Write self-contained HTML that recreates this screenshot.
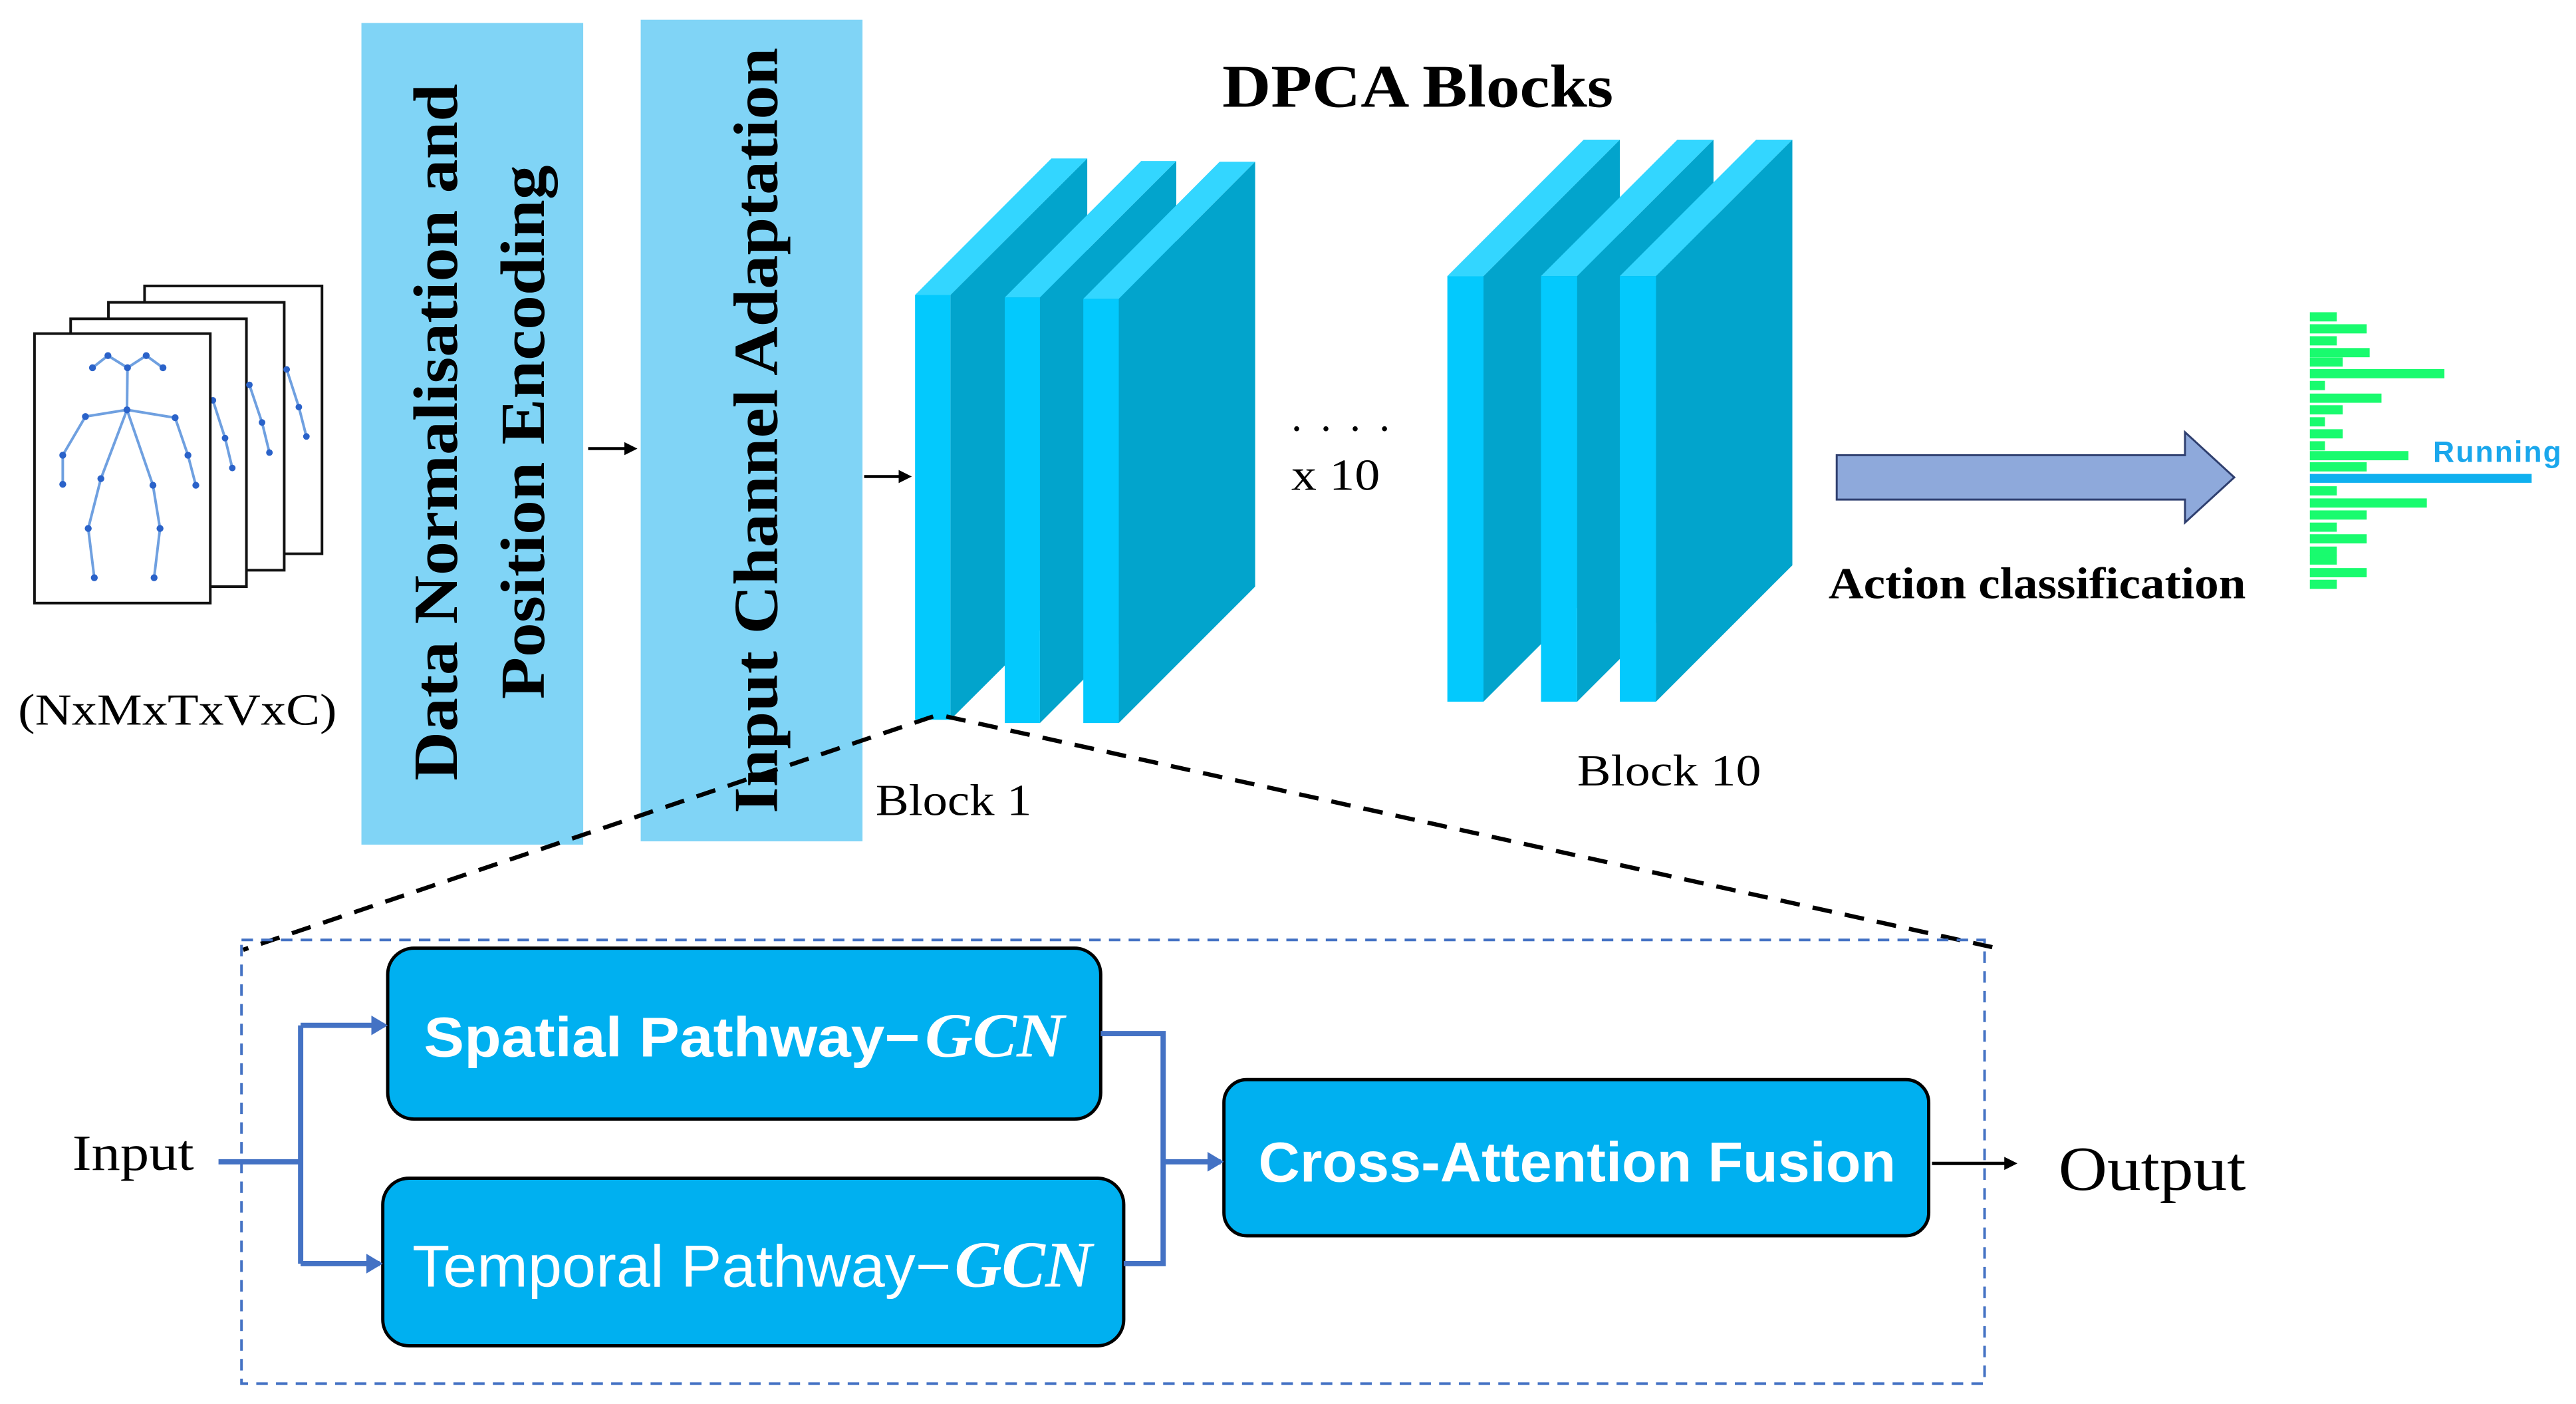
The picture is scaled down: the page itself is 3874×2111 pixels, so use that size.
<!DOCTYPE html>
<html><head><meta charset="utf-8"><style>html,body{margin:0;padding:0;background:#fff}svg{display:block}</style></head>
<body>
<svg width="3874" height="2111" viewBox="0 0 1568 854.4" xmlns="http://www.w3.org/2000/svg">
<defs>
<marker id="ab" markerWidth="8" markerHeight="8" refX="6" refY="4" orient="auto" markerUnits="userSpaceOnUse"><path d="M0,0 L8,4 L0,8 Z" fill="#000"/></marker>
<marker id="abl" markerWidth="10" markerHeight="12" refX="8" refY="6" orient="auto" markerUnits="userSpaceOnUse"><path d="M0,0 L10,6 L0,12 Z" fill="#4472c4"/></marker>
</defs>
<rect width="1568" height="854.4" fill="#fff"/>
<g fill="#fff" stroke="#111" stroke-width="1.6">
<rect x="88" y="174" width="108" height="163"/>
<rect x="66" y="184" width="107" height="163"/>
<rect x="43" y="194" width="107" height="163"/>
</g>
<g stroke="#6fa0e0" stroke-width="1.6" fill="none">
<polyline points="129.6,243.6 137,266.6 141.4,284.8"/>
<polyline points="151.8,234.2 159.5,257.1 164,275.4"/>
<polyline points="174.5,224.8 181.9,247.7 186.5,265.6"/>
</g>
<g fill="#2a62c9">
<circle cx="129.6" cy="243.6" r="2"/><circle cx="137" cy="266.6" r="2"/><circle cx="141.4" cy="284.8" r="2"/>
<circle cx="151.8" cy="234.2" r="2"/><circle cx="159.5" cy="257.1" r="2"/><circle cx="164" cy="275.4" r="2"/>
<circle cx="174.5" cy="224.8" r="2"/><circle cx="181.9" cy="247.7" r="2"/><circle cx="186.5" cy="265.6" r="2"/>
</g>
<rect x="21" y="203" width="107" height="164" fill="#fff" stroke="#111" stroke-width="1.6"/>
<g stroke="#6fa0e0" stroke-width="1.6" fill="none">
<polyline points="56.3,223.8 65.7,216.4 77.6,223.8 89,216.4 99.2,223.8"/>
<polyline points="77.6,223.8 77.3,249.4"/>
<polyline points="77.3,249.4 52,253.5 38.2,277 38.2,294.7"/>
<polyline points="77.3,249.4 106.6,254.2 114.4,277 119.2,295.3"/>
<polyline points="77.3,249.4 61.4,291.3 53.7,321.6 57.4,351.6"/>
<polyline points="77.3,249.4 93.1,295.3 97.4,321.6 93.8,351.6"/>
</g>
<g fill="#2a62c9">
<circle cx="65.7" cy="216.4" r="2.1"/><circle cx="89" cy="216.4" r="2.1"/><circle cx="56.3" cy="223.8" r="2.1"/><circle cx="77.6" cy="223.8" r="2.1"/><circle cx="99.2" cy="223.8" r="2.1"/>
<circle cx="77.3" cy="249.4" r="2.1"/><circle cx="52" cy="253.5" r="2.1"/><circle cx="106.6" cy="254.2" r="2.1"/>
<circle cx="38.2" cy="277" r="2.1"/><circle cx="114.4" cy="277" r="2.1"/><circle cx="38.2" cy="294.7" r="2.1"/><circle cx="119.2" cy="295.3" r="2.1"/>
<circle cx="61.4" cy="291.3" r="2.1"/><circle cx="93.1" cy="295.3" r="2.1"/><circle cx="53.7" cy="321.6" r="2.1"/><circle cx="97.4" cy="321.6" r="2.1"/>
<circle cx="57.4" cy="351.6" r="2.1"/><circle cx="93.8" cy="351.6" r="2.1"/>
</g>
<text x="108" y="441" font-family="Liberation Serif, serif" font-size="27" text-anchor="middle" textLength="194" lengthAdjust="spacingAndGlyphs">(NxMxTxVxC)</text>

<rect x="220" y="14" width="135" height="500" fill="#80d4f6"/>
<rect x="390" y="12" width="135" height="500" fill="#80d4f6"/>
<g font-family="Liberation Serif, serif" font-weight="bold" font-size="38" fill="#000" text-anchor="middle">
<text transform="translate(278,263) rotate(-90)" textLength="424" lengthAdjust="spacingAndGlyphs">Data Normalisation and</text>
<text transform="translate(331,263) rotate(-90)" textLength="325" lengthAdjust="spacingAndGlyphs">Position Encoding</text>
<text transform="translate(473,262) rotate(-90)" textLength="466" lengthAdjust="spacingAndGlyphs">Input Channel Adaptation</text>
</g>
<line x1="358" y1="273" x2="386" y2="273" stroke="#000" stroke-width="1.8" marker-end="url(#ab)"/>
<line x1="526" y1="290" x2="553" y2="290" stroke="#000" stroke-width="1.8" marker-end="url(#ab)"/>

<g>
<polygon points="578.5,179.5 661.8,96.4 661.8,355 578.5,438" fill="#02a4cc"/>
<polygon points="557,179.5 578.5,179.5 661.8,96.4 640,96.4" fill="#33d6ff"/>
<rect x="557" y="179.5" width="21.5" height="258.5" fill="#03c9fd"/>
</g>
<g>
<polygon points="633,181 716,98 716,357 633,440" fill="#02a4cc"/>
<polygon points="611.6,181 633,181 716,98 694.6,98" fill="#33d6ff"/>
<rect x="611.6" y="181" width="21.4" height="259" fill="#03c9fd"/>
</g>
<g>
<polygon points="681,181.8 764,98.4 764,357 681,440" fill="#02a4cc"/>
<polygon points="659.4,181.8 681,181.8 764,98.4 742.4,98.4" fill="#33d6ff"/>
<rect x="659.4" y="181.8" width="21.6" height="258.2" fill="#03c9fd"/>
</g>
<g>
<polygon points="903,168 986,85 986,344 903,427" fill="#02a4cc"/>
<polygon points="881,168 903,168 986,85 964,85" fill="#33d6ff"/>
<rect x="881" y="168" width="22" height="259" fill="#03c9fd"/>
</g>
<g>
<polygon points="960,168 1043,85 1043,344 960,427" fill="#02a4cc"/>
<polygon points="938,168 960,168 1043,85 1021,85" fill="#33d6ff"/>
<rect x="938" y="168" width="22" height="259" fill="#03c9fd"/>
</g>
<g>
<polygon points="1008,168 1091,85 1091,344 1008,427" fill="#02a4cc"/>
<polygon points="986,168 1008,168 1091,85 1069,85" fill="#33d6ff"/>
<rect x="986" y="168" width="22" height="259" fill="#03c9fd"/>
</g>

<g font-family="Liberation Serif, serif" fill="#000">
<text x="863" y="65" font-size="37" font-weight="bold" text-anchor="middle" textLength="238" lengthAdjust="spacingAndGlyphs">DPCA Blocks</text>
<text x="786" y="262" font-size="26" textLength="60">. . . .</text>
<text x="786" y="298" font-size="27" textLength="54" lengthAdjust="spacingAndGlyphs">x 10</text>
<text x="533" y="496" font-size="27" textLength="95" lengthAdjust="spacingAndGlyphs">Block 1</text>
<text x="960" y="478" font-size="27" textLength="112" lengthAdjust="spacingAndGlyphs">Block 10</text>
<text x="1113" y="364" font-size="27" font-weight="bold" textLength="254" lengthAdjust="spacingAndGlyphs">Action classification</text>
<text x="44" y="712" font-size="31" textLength="74" lengthAdjust="spacingAndGlyphs">Input</text>
<text x="1253" y="724" font-size="38" textLength="114" lengthAdjust="spacingAndGlyphs">Output</text>
</g>

<g stroke="#000" stroke-width="2.6" stroke-dasharray="12,8" fill="none">
<line x1="568" y1="436" x2="148" y2="578"/>
<line x1="576" y1="436" x2="1220" y2="578"/>
</g>

<polygon points="1118,277 1330,277 1330,263 1360,290.5 1330,318 1330,304 1118,304" fill="#8ea9db" stroke="#2f3f6f" stroke-width="1.2"/>

<g fill="#19fb6e">
<rect x="1406" y="190" width="16.4" height="5.6"/>
<rect x="1406" y="197.3" width="34.6" height="5.6"/>
<rect x="1406" y="204.6" width="16.4" height="5.6"/>
<rect x="1406" y="211.8" width="36.4" height="5.6"/>
<rect x="1406" y="217.5" width="20" height="5.6"/>
<rect x="1406" y="224.6" width="81.9" height="5.6"/>
<rect x="1406" y="231.8" width="9.2" height="5.6"/>
<rect x="1406" y="239.5" width="43.6" height="5.6"/>
<rect x="1406" y="246.6" width="20" height="5.6"/>
<rect x="1406" y="253.9" width="9.2" height="5.6"/>
<rect x="1406" y="261.2" width="20" height="5.6"/>
<rect x="1406" y="268.5" width="9.2" height="5.6"/>
<rect x="1406" y="274.5" width="60" height="5.6"/>
<rect x="1406" y="281.3" width="34.6" height="5.6"/>
<rect x="1406" y="295.9" width="16.4" height="5.6"/>
<rect x="1406" y="303.3" width="71.2" height="5.6"/>
<rect x="1406" y="310.6" width="34.6" height="5.6"/>
<rect x="1406" y="318" width="16.4" height="5.6"/>
<rect x="1406" y="325.1" width="34.6" height="5.6"/>
<rect x="1406" y="332.6" width="16.4" height="5.6"/>
<rect x="1406" y="338" width="16.4" height="5.6"/>
<rect x="1406" y="345.7" width="34.6" height="5.6"/>
<rect x="1406" y="352.8" width="16.4" height="5.6"/>
</g>
<rect x="1406" y="288.4" width="135" height="5.4" fill="#0fb0ef"/>
<text x="1481" y="281" font-family="Liberation Sans, sans-serif" font-weight="bold" font-size="18" fill="#1aa7ec" textLength="78">Running</text>

<rect x="147" y="572" width="1061" height="270" fill="none" stroke="#4472c4" stroke-width="1.6" stroke-dasharray="7,5"/>
<rect x="236" y="577" width="434" height="104" rx="16" fill="#00b0f0" stroke="#000" stroke-width="2"/>
<rect x="233" y="717" width="451" height="102" rx="16" fill="#00b0f0" stroke="#000" stroke-width="2"/>
<rect x="745" y="657" width="429" height="95" rx="14" fill="#00b0f0" stroke="#000" stroke-width="2"/>
<g fill="#fff" font-family="Liberation Sans, sans-serif">
<text x="258" y="643" font-size="34" font-weight="bold" textLength="302" lengthAdjust="spacingAndGlyphs">Spatial Pathway−</text>
<text x="563" y="643" font-size="38" font-weight="bold" font-style="italic" font-family="Liberation Serif, serif" textLength="85" lengthAdjust="spacingAndGlyphs">GCN</text>
<text x="251" y="783" font-size="36" textLength="328" lengthAdjust="spacingAndGlyphs">Temporal Pathway−</text>
<text x="581" y="783" font-size="40" font-weight="bold" font-style="italic" font-family="Liberation Serif, serif" textLength="84" lengthAdjust="spacingAndGlyphs">GCN</text>
<text x="766" y="719" font-size="34" font-weight="bold" textLength="388" lengthAdjust="spacingAndGlyphs">Cross-Attention Fusion</text>
</g>
<g stroke="#4472c4" stroke-width="3.2" fill="none">
<polyline points="133,707 183,707"/>
<polyline points="183,624 183,769"/>
<line x1="183" y1="624" x2="234" y2="624" marker-end="url(#abl)"/>
<line x1="183" y1="769" x2="231" y2="769" marker-end="url(#abl)"/>
<polyline points="670,629 708,629 708,769 684,769"/>
<line x1="708" y1="707" x2="743" y2="707" marker-end="url(#abl)"/>
</g>
<line x1="1176" y1="708" x2="1226" y2="708" stroke="#000" stroke-width="2" marker-end="url(#ab)"/>
</svg>
</body></html>
